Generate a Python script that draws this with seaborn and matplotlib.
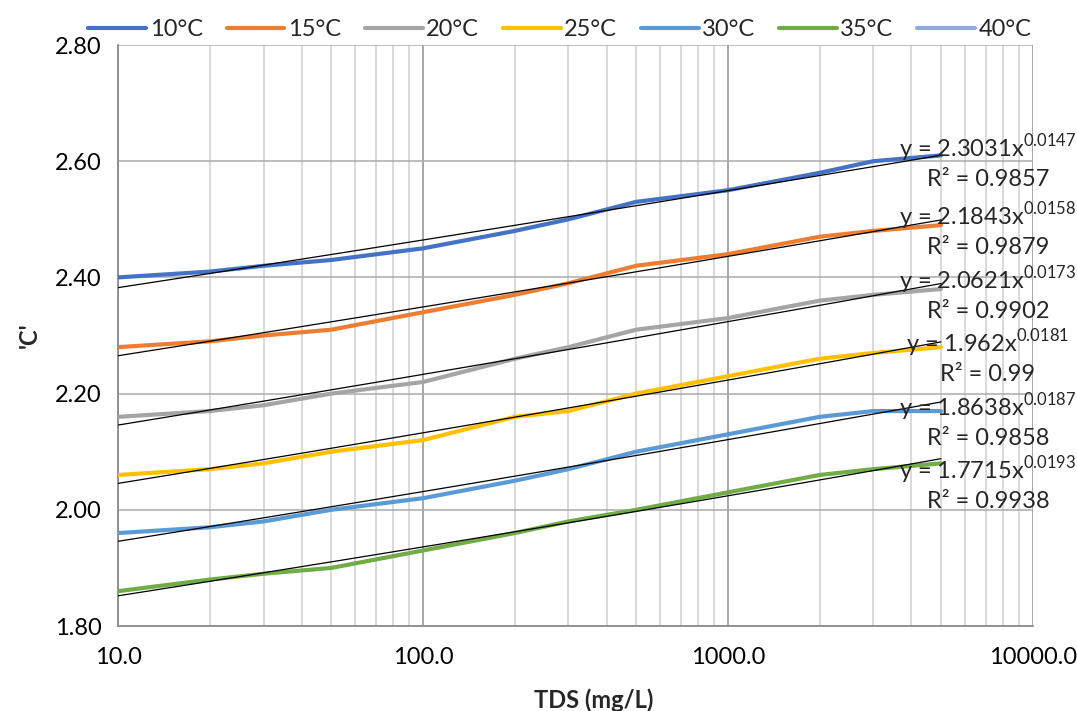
import numpy as np
import pandas as pd
import matplotlib
matplotlib.use("Agg")
import matplotlib.pyplot as plt
from matplotlib.lines import Line2D
from matplotlib.ticker import FixedLocator, FixedFormatter, NullFormatter
import seaborn as sns

# TDS values (mg/L) and 'C' readings per temperature
tds = [10, 20, 30, 50, 100, 200, 300, 500, 1000, 2000, 3000, 5000]
c_10 = [2.40, 2.41, 2.42, 2.43, 2.45, 2.48, 2.50, 2.53, 2.55, 2.58, 2.60, 2.61]
c_15 = [2.28, 2.29, 2.30, 2.31, 2.34, 2.37, 2.39, 2.42, 2.44, 2.47, 2.48, 2.49]
c_20 = [2.16, 2.17, 2.18, 2.20, 2.22, 2.26, 2.28, 2.31, 2.33, 2.36, 2.37, 2.38]
c_25 = [2.06, 2.07, 2.08, 2.10, 2.12, 2.16, 2.17, 2.20, 2.23, 2.26, 2.27, 2.28]
c_30 = [1.96, 1.97, 1.98, 2.00, 2.02, 2.05, 2.07, 2.10, 2.13, 2.16, 2.17, 2.17]
c_35 = [1.86, 1.88, 1.89, 1.90, 1.93, 1.96, 1.98, 2.00, 2.03, 2.06, 2.07, 2.08]

temps = ["10°C", "15°C", "20°C", "25°C", "30°C", "35°C", "40°C"]
colors = ["#4472C4", "#ED7D31", "#A5A5A5", "#FFC000", "#5B9BD5", "#70AD47", "#8FAADC"]

# power trendline coefficients y = a * x^b, as printed on the chart
fit_a = [2.3031, 2.1843, 2.0621, 1.962, 1.8638, 1.7715]
fit_b = [0.0147, 0.0158, 0.0173, 0.0181, 0.0187, 0.0193]
fit_r2 = ["0.9857", "0.9879", "0.9902", "0.99", "0.9858", "0.9938"]
fit_a_txt = ["2.3031", "2.1843", "2.0621", "1.962", "1.8638", "1.7715"]
fit_b_txt = ["0.0147", "0.0158", "0.0173", "0.0181", "0.0187", "0.0193"]

series = [c_10, c_15, c_20, c_25, c_30, c_35]
df = pd.concat([pd.DataFrame({"TDS": tds, "C": s, "T": temps[i]})
                for i, s in enumerate(series)], ignore_index=True)

sns.set_style("white")
plt.rcParams["font.family"] = ["Lato", "DejaVu Sans"]
plt.rcParams["mathtext.fontset"] = "custom"
plt.rcParams["mathtext.rm"] = "Lato"

FS = 17

fig = plt.figure(figsize=(10.77, 7.11), dpi=100)
ax = fig.add_axes([0.1096, 0.1195, 0.8493, 0.8172])

ax.set_xscale("log")
ax.set_xlim(10, 10000)
ax.set_ylim(1.80, 2.80)

# gridlines
ax.set_yticks(np.arange(1.80, 2.81, 0.20))
ax.yaxis.set_major_formatter(FixedFormatter(["1.80", "2.00", "2.20", "2.40", "2.60", "2.80"]))
ax.xaxis.set_major_locator(FixedLocator([10, 100, 1000, 10000]))
ax.xaxis.set_major_formatter(FixedFormatter(["10.0", "100.0", "1000.0", "10000.0"]))
minors = [m * d for d in (10, 100, 1000) for m in range(2, 10)]
ax.xaxis.set_minor_locator(FixedLocator(minors))
ax.xaxis.set_minor_formatter(NullFormatter())
ax.grid(True, which="major", axis="y", color="#ABABAB", linewidth=1.1)
ax.grid(True, which="major", axis="x", color="#A0A0A0", linewidth=1.3)
ax.grid(True, which="minor", axis="x", color="#D0D0D0", linewidth=1.1)
ax.set_axisbelow(True)

# trendlines (black, thin)
xfit = np.geomspace(10, 5000, 60)
for a, b in zip(fit_a, fit_b):
    ax.plot(xfit, a * xfit ** b, color="black", linewidth=0.9, zorder=4)

sns.lineplot(data=df, x="TDS", y="C", hue="T", palette=dict(zip(temps, colors)),
             linewidth=3.0, ax=ax, legend=False, zorder=3)

# trendline equations
eq_x = 0.951
eq_y = [0.800, 0.684, 0.573, 0.464, 0.355, 0.246]
for i in range(6):
    ax.text(eq_x, eq_y[i], f"y = {fit_a_txt[i]}x$^{{{fit_b_txt[i]}}}$\nR² = {fit_r2[i]}",
            transform=ax.transAxes, ha="center", va="center", fontsize=FS,
            linespacing=1.3, zorder=5, clip_on=False)

for side in ["top", "right"]:
    ax.spines[side].set_visible(False)
for side in ["left", "bottom"]:
    ax.spines[side].set_color("#8C8C8C")
    ax.spines[side].set_linewidth(1.3)

ax.tick_params(axis="both", which="major", labelsize=FS, colors="#8C8C8C",
               labelcolor="#000000", length=6, width=1.1, direction="out")
ax.tick_params(axis="x", which="major", pad=9)
ax.tick_params(axis="x", which="minor", length=0)
ax.tick_params(axis="y", pad=6)

ax.set_xlabel("TDS (mg/L)", fontsize=FS, fontweight="bold")
ax.set_ylabel("'C'", fontsize=FS, fontweight="bold")
ax.xaxis.set_label_coords(0.52, -0.108)
ax.yaxis.set_label_coords(-0.085, 0.5)

handles = [Line2D([0], [0], color=c, linewidth=3.0) for c in colors]
fig.legend(handles, temps, loc="upper center", bbox_to_anchor=(0.52, 1.003), ncol=7,
           frameon=False, fontsize=FS, handlelength=2.45, handletextpad=0.15,
           columnspacing=1.0)

fig.savefig("out.png", dpi=100)
